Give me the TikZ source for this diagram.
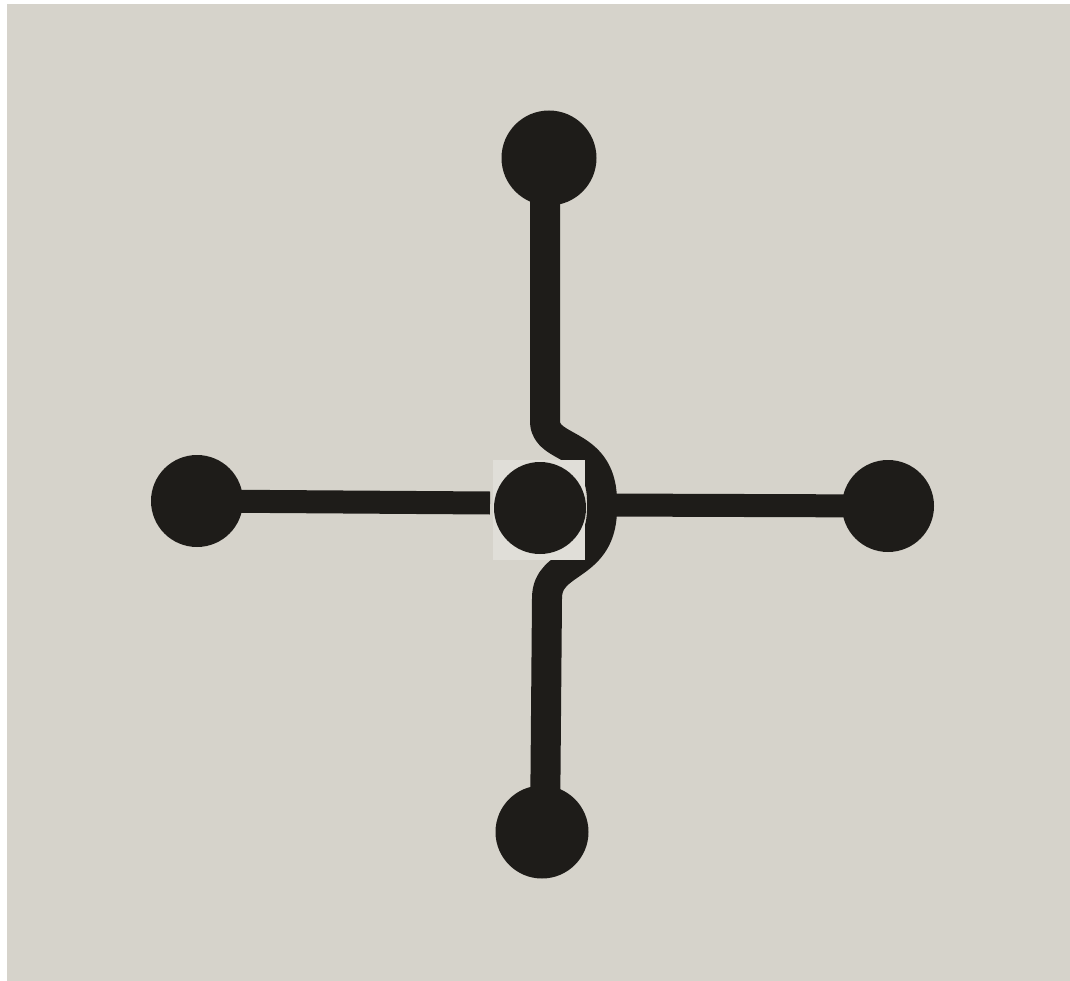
\documentclass[tikz,border=0pt]{standalone}
\definecolor{paper}{RGB}{214,211,203}
\definecolor{patch}{RGB}{224,222,216}
\definecolor{ink}{RGB}{30,28,25}
\pgfdeclarelayer{bg}
\pgfdeclarelayer{wires}
\pgfdeclarelayer{top}
\pgfsetlayers{bg,wires,main,top}
\begin{document}
\begin{tikzpicture}[x=1pt,y=-1pt,
  dot/.style={circle,fill=ink,inner sep=0pt,minimum size=92pt},
  wire/.style={draw=ink,line width=23pt},
  vwire/.style={draw=ink,line width=30pt,line join=round}]
\useasboundingbox (0,0) rectangle (1070,981);
\begin{pgfonlayer}{bg}
\fill[white] (0,0) rectangle (1070,981);
\fill[paper] (7,4) rectangle (1070,981);
\end{pgfonlayer}
% nodes
\node[dot] (L) at (197,501) {};
\node[dot] (R) at (888,506) {};
\node[dot,minimum size=95pt] (T) at (549,158) {};
\node[dot,minimum size=93pt] (B) at (542,832) {};
\coordinate (lend) at (490,503);
\coordinate (arc) at (602,505);
% wires
\begin{pgfonlayer}{wires}
\draw[wire] (L.center) -- (lend);
\draw[wire] (arc) -- (R.center);
\draw[vwire] ([xshift=-4pt]T.center) -- (545,422)
  .. controls (546,452) and (604,440) .. (arc)
  .. controls (604,570) and (547,558) .. (547,598) -- ([xshift=3pt]B.center);
\end{pgfonlayer}
% pasted patch and centre dot
\begin{pgfonlayer}{top}
\fill[patch] (493,460) rectangle (585,560);
\node[dot] (C) at (540,508) {};
\end{pgfonlayer}
\end{tikzpicture}
\end{document}
